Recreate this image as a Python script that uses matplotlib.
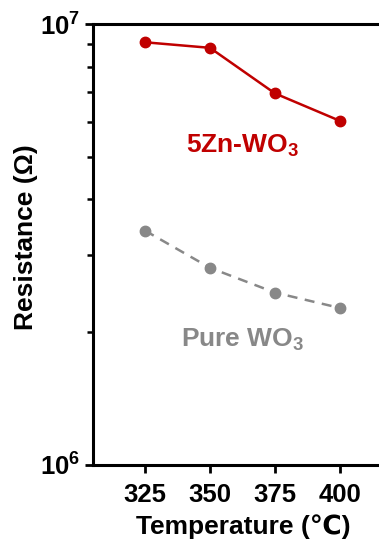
import matplotlib
matplotlib.use('Agg')
import matplotlib.pyplot as plt
from matplotlib.ticker import LogLocator, NullFormatter

# Dati
temperature = [325, 350, 375, 400]
zn_wo3 = [9.09e6, 8.83e6, 6.96e6, 6.03e6]
pure_wo3 = [3.40e6, 2.80e6, 2.46e6, 2.27e6]

plt.rcParams['font.family'] = ['Liberation Sans', 'DejaVu Sans']
plt.rcParams['font.weight'] = 'bold'
plt.rcParams['mathtext.fontset'] = 'custom'
plt.rcParams['mathtext.rm'] = 'Liberation Sans:bold'
plt.rcParams['mathtext.bf'] = 'Liberation Sans:bold'
plt.rcParams['mathtext.default'] = 'bf'

fig = plt.figure(figsize=(3.79, 5.4), dpi=100)
W, H = 379, 540
# asse che esce dal bordo destro come nell'originale
ax = fig.add_axes([93 / W, 1 - 465 / H, 300 / W, 441 / H])

ax.plot(temperature, zn_wo3, '-o', color='#C00000', lw=1.8, ms=7.5)
ax.plot(temperature, pure_wo3, '--o', color='#888888', lw=1.8, ms=7.5, dashes=(4, 3))

ax.set_yscale('log')
ax.set_ylim(1e6, 1e7)
ax.set_xlim(305, 420.4)
ax.set_xticks(temperature)
ax.set_yticks([1e6, 1e7])
ax.set_yticklabels(['$\\mathbf{10^{6}}$', '$\\mathbf{10^{7}}$'])
ax.yaxis.set_minor_locator(LogLocator(base=10, subs=range(2, 10)))
ax.yaxis.set_minor_formatter(NullFormatter())

for s in ax.spines.values():
    s.set_linewidth(2.2)
ax.tick_params(axis='both', which='major', direction='out', length=6, width=2,
               labelsize=18.5)
ax.tick_params(axis='x', pad=7)
ax.tick_params(axis='y', which='minor', direction='out', length=4, width=1.8)

ax.set_xlabel('Temperature (℃)', fontsize=19, fontweight='bold', labelpad=5)
ax.set_ylabel('Resistance (Ω)', fontsize=19, fontweight='bold')
ax.yaxis.set_label_coords(-0.182, 0.516)

ax.text(362.5, 1.92e6, 'Pure WO$_\\mathbf{3}$', color='#888888', fontsize=19,
        fontweight='bold', ha='center', va='center')
ax.text(362.5, 5.29e6, '5Zn-WO$_\\mathbf{3}$', color='#C00000', fontsize=19,
        fontweight='bold', ha='center', va='center')

fig.savefig('out.png', dpi=100)
